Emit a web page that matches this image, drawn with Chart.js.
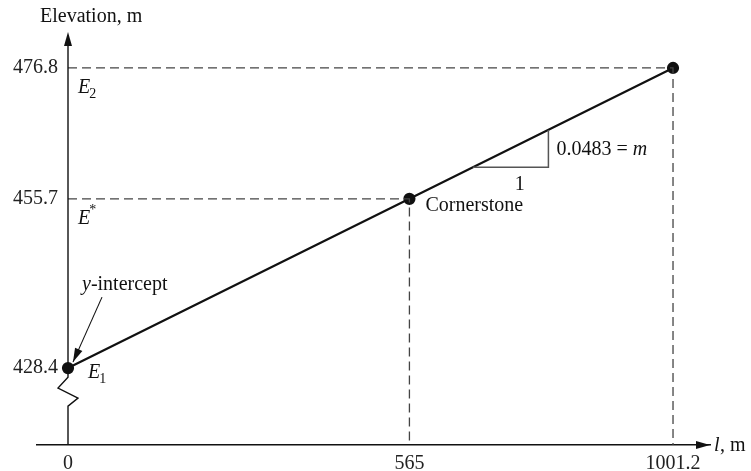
<!DOCTYPE html>
<html>
<head>
<meta charset="utf-8">
<script src="https://cdn.jsdelivr.net/npm/chart.js@4.4.1/dist/chart.umd.min.js"></script>
<style>
  html, body { margin: 0; padding: 0; background: #fff; }
  #wrap { width: 751px; height: 471px; }
</style>
</head>
<body>
<div id="wrap"><canvas id="grafico"></canvas></div>
<script>
// valores
const distancias = [0, 565, 1001.2];          // l, m
const elevacoes = [428.4, 455.7, 476.8];       // Elevation, m
const xTicks = [0, 565, 1001.2];
const yTicks = [428.4, 455.7, 476.8];
const inclinacao = 0.0483;
// triangulo da inclinacao (pontos sobre a reta)
const trianguloX = [670, 795, 795];
const trianguloY = [460.8, 460.8, 466.8];

const X_MIN = -51.3, X_MAX = 1062.4;
const Y_MIN = 416, Y_MAX = 482.6;
const X_ROTULOS = -16.5; // onde os rotulos do eixo y se alinham (10px a esquerda do eixo)
const fonte = "'Liberation Serif', 'DejaVu Serif', serif";

const pontos = distancias.map((x, i) => ({ x: x, y: elevacoes[i] }));

// linhas tracejadas de referencia
function guia(i) {
    return [
        { x: 0, y: elevacoes[i] },
        { x: distancias[i], y: elevacoes[i] },
        { x: distancias[i], y: Y_MIN }
    ];
}

const tracejado = {
    type: 'line',
    borderColor: '#444',
    borderWidth: 1.3,
    borderDash: [9, 5],
    pointRadius: 0,
    fill: false
};

// desenha eixo y com quebra, setas e textos
const anotacoes = {
    id: 'anotacoes',
    afterDatasetsDraw(chart) {
        const ctx = chart.ctx;
        const sx = chart.scales.x, sy = chart.scales.y;
        const area = chart.chartArea;
        const x0 = sx.getPixelForValue(0);
        const yAx = sy.getPixelForValue(Y_MIN);
        const yE1 = sy.getPixelForValue(elevacoes[0]);

        ctx.save();
        ctx.strokeStyle = '#111';
        ctx.fillStyle = '#111';
        ctx.lineWidth = 1.4;

        // eixo y com quebra
        ctx.beginPath();
        ctx.moveTo(x0, area.top + 4);
        ctx.lineTo(x0, yE1 + 9);
        ctx.lineTo(x0 - 10, yE1 + 20);
        ctx.lineTo(x0 + 10, yE1 + 30);
        ctx.lineTo(x0, yE1 + 38);
        ctx.lineTo(x0, yAx);
        ctx.stroke();

        // setas dos eixos
        ctx.beginPath();
        ctx.moveTo(x0, area.top);
        ctx.lineTo(x0 - 4, area.top + 14);
        ctx.lineTo(x0 + 4, area.top + 14);
        ctx.closePath();
        ctx.fill();
        ctx.beginPath();
        ctx.moveTo(area.right, yAx);
        ctx.lineTo(area.right - 14, yAx - 4);
        ctx.lineTo(area.right - 14, yAx + 4);
        ctx.closePath();
        ctx.fill();

        // seta do y-intercept
        const ax = x0 + 5, ay = yE1 - 6;
        const bx = x0 + 34, by = yE1 - 71;
        ctx.lineWidth = 1.1;
        ctx.beginPath();
        ctx.moveTo(bx, by);
        ctx.lineTo(ax, ay);
        ctx.stroke();
        const ang = Math.atan2(ay - by, ax - bx);
        ctx.beginPath();
        ctx.moveTo(ax, ay);
        ctx.lineTo(ax - 14 * Math.cos(ang) + 4 * Math.sin(ang), ay - 14 * Math.sin(ang) - 4 * Math.cos(ang));
        ctx.lineTo(ax - 14 * Math.cos(ang) - 4 * Math.sin(ang), ay - 14 * Math.sin(ang) + 4 * Math.cos(ang));
        ctx.closePath();
        ctx.fill();

        // textos
        ctx.textBaseline = 'alphabetic';
        ctx.textAlign = 'left';
        ctx.font = '20px ' + fonte;
        ctx.fillText('Elevation, m', 40, 22);
        ctx.fillText(', m', area.right + 10, yAx + 6);
        const wy = (() => { ctx.font = 'italic 20px ' + fonte; const w = ctx.measureText('y').width; ctx.font = '20px ' + fonte; return w; })();
        ctx.fillText('-intercept', x0 + 14 + wy, yE1 - 78);
        ctx.fillText('Cornerstone', sx.getPixelForValue(distancias[1]) + 16, sy.getPixelForValue(elevacoes[1]) + 12);

        const pxT = sx.getPixelForValue(trianguloX[1]);
        const pyT1 = sy.getPixelForValue(trianguloY[0]);
        const pyT2 = sy.getPixelForValue(trianguloY[2]);
        const txtM = inclinacao.toFixed(4) + ' = ';
        ctx.fillText(txtM, pxT + 8, (pyT1 + pyT2) / 2 + 6);
        const wM = ctx.measureText(txtM).width;
        ctx.textAlign = 'center';
        ctx.fillText('1', (sx.getPixelForValue(trianguloX[0]) + pxT) / 2 + 9, pyT1 + 23);

        ctx.textAlign = 'left';
        ctx.font = 'italic 20px ' + fonte;
        ctx.fillText('m', pxT + 8 + wM, (pyT1 + pyT2) / 2 + 6);
        ctx.fillText('l', area.right + 4, yAx + 6);
        ctx.fillText('y', x0 + 14, yE1 - 78);

        const sub = (txt, px, py, marca, cima) => {
            ctx.font = 'italic 20px ' + fonte;
            ctx.fillText(txt, px, py);
            const w = ctx.measureText(txt).width;
            ctx.font = '14px ' + fonte;
            ctx.fillText(marca, px + w - 1, cima ? py - 10 : py + 5);
        };
        sub('E', x0 + 10, sy.getPixelForValue(elevacoes[2]) + 25, '2', false);
        sub('E', x0 + 10, sy.getPixelForValue(elevacoes[1]) + 25, '*', true);
        sub('E', x0 + 20, yE1 + 10, '1', false);
        ctx.restore();
    }
};

const config = {
    type: 'scatter',
    data: {
        datasets: [
            Object.assign({ data: guia(2) }, tracejado),
            Object.assign({ data: guia(1) }, tracejado),
            {
                type: 'line',
                data: trianguloX.map((x, i) => ({ x: x, y: trianguloY[i] })),
                borderColor: '#555',
                borderWidth: 1.5,
                pointRadius: 0,
                fill: false
            },
            {
                type: 'line',
                data: pontos,
                borderColor: '#111',
                borderWidth: 2.2,
                pointRadius: 5,
                pointBackgroundColor: '#111',
                pointBorderColor: '#111',
                fill: false
            }
        ]
    },
    options: {
        responsive: true,
        maintainAspectRatio: false,
        animation: false,
        layout: { padding: { left: 37, right: 41, top: 32, bottom: 26 } },
        plugins: {
            legend: { display: false },
            tooltip: { enabled: false }
        },
        scales: {
            x: {
                type: 'linear',
                min: X_MIN,
                max: X_MAX,
                position: { y: Y_MIN },
                grid: { display: false },
                border: { display: true, color: '#111', width: 1.4 },
                afterBuildTicks: s => { s.ticks = xTicks.map(v => ({ value: v })); },
                ticks: {
                    autoSkip: false,
                    maxRotation: 0,
                    padding: -1,
                    color: '#222',
                    font: { family: fonte, size: 20 },
                    callback: v => String(v)
                }
            },
            y: {
                type: 'linear',
                min: Y_MIN,
                max: Y_MAX,
                position: { x: X_ROTULOS },
                grid: { display: false },
                border: { display: false },
                afterBuildTicks: s => { s.ticks = yTicks.map(v => ({ value: v })); },
                ticks: {
                    autoSkip: false,
                    padding: 0,
                    color: '#222',
                    font: { family: fonte, size: 20 },
                    callback: v => String(v)
                }
            }
        }
    },
    plugins: [anotacoes]
};

document.addEventListener('DOMContentLoaded', function() {
    const ctx = document.getElementById('grafico').getContext('2d');
    new Chart(ctx, config);
});
</script>
</body>
</html>
